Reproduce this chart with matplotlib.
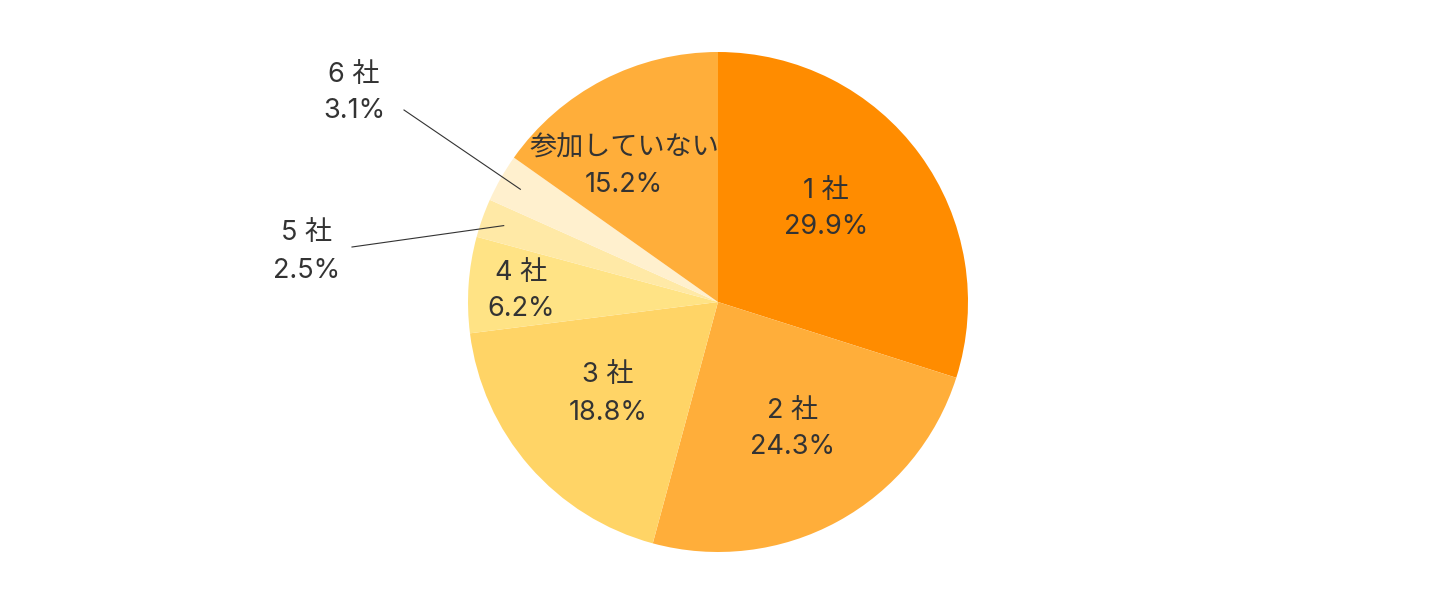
import matplotlib
matplotlib.use("Agg")
import matplotlib.pyplot as plt
import numpy as np

plt.rcParams['font.family'] = ['Inter', 'Noto Sans CJK JP', 'DejaVu Sans']

categories = ["1 社", "2 社", "3 社", "4 社", "5 社", "6 社", "参加していない"]
values = [29.9, 24.3, 18.8, 6.2, 2.5, 3.1, 15.2]
colors = ["#FF8C00", "#FFAE3A", "#FFD466", "#FFE385", "#FFE9A6", "#FFF0CE", "#FFAE3A"]

W, H = 1438, 600
CX, CY = 718, 302
R = 250
# label centres in pixel offsets from pie centre (layout only)
label_pos = [(108, 93), (75, -127), (-110, -92), (-197, 11), (-411, 50), (-364, 209), (-94, 135)]
leader = {4: (-366, 55), 5: (-314, 192)}

fig = plt.figure(figsize=(W / 100, H / 100), dpi=100)
ax = fig.add_axes([0, 0, 1, 1])
wedges, _ = ax.pie(values, colors=colors, startangle=90, counterclock=False,
                   radius=R, wedgeprops=dict(linewidth=0))
ax.set_xlim(-CX, W - CX)
ax.set_ylim(CY - H, CY)
ax.set_aspect('equal')
ax.axis('off')

txt = "#333333"
fs = 19.5
for i, w in enumerate(wedges):
    label = f"{categories[i]}\n{values[i]:.1f}%"
    if i in leader:
        mid = np.deg2rad((w.theta1 + w.theta2) / 2)
        r = 0.91 * R
        sx, sy = r * np.cos(mid), r * np.sin(mid)
        ex, ey = leader[i]
        ax.plot([sx, ex], [sy, ey], color=txt, lw=0.8)
    tx, ty = label_pos[i]
    ax.text(tx, ty, label, ha='center', va='center', fontsize=fs,
            color=txt, linespacing=1.55)

fig.savefig("out.png", dpi=100)
